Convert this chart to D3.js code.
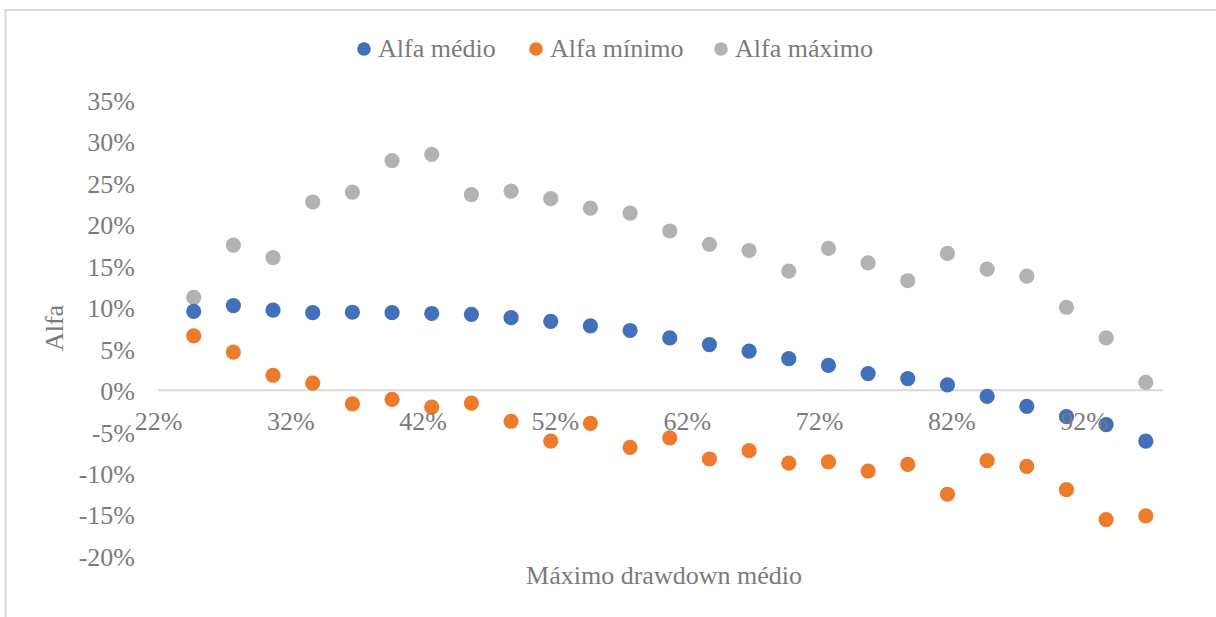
<!DOCTYPE html>
<html>
<head>
<meta charset="utf-8">
<script src="https://cdn.jsdelivr.net/npm/d3@7"></script>
<style>
  html, body { margin: 0; padding: 0; background: #ffffff; }
  svg { display: block; }
  text { font-family: "Liberation Serif", "Times New Roman", serif; fill: #7b7b7b; }
</style>
</head>
<body>
<svg id="chart" width="1216" height="617"></svg>
<script>
// Máximo drawdown médio (x) for each group
const drawdown = [24.7, 27.7, 30.7, 33.7, 36.7, 39.7, 42.7, 45.7, 48.7, 51.7, 54.7, 57.7, 60.7,
                  63.7, 66.7, 69.7, 72.7, 75.7, 78.7, 81.7, 84.7, 87.7, 90.7, 93.7, 96.7];

// Alfa per group (%)
const alfaMedio = [9.5, 10.2, 9.65, 9.35, 9.4, 9.35, 9.25, 9.15, 8.75, 8.3, 7.75, 7.2, 6.3,
                   5.5, 4.7, 3.8, 3.0, 2.0, 1.4, 0.65, -0.75, -1.95, -3.2, -4.15, -6.15];
const alfaMinimo = [6.55, 4.6, 1.8, 0.85, -1.65, -1.1, -2.05, -1.55, -3.75, -6.15, -4.0, -6.9, -5.75,
                    -8.3, -7.3, -8.8, -8.65, -9.75, -8.95, -12.55, -8.5, -9.2, -12.0, -15.6, -15.15];
const alfaMaximo = [11.2, 17.5, 16.0, 22.7, 23.9, 27.7, 28.45, 23.6, 24.0, 23.1, 21.95, 21.35, 19.2,
                    17.6, 16.85, 14.35, 17.1, 15.35, 13.2, 16.5, 14.6, 13.75, 10.0, 6.3, 0.95];

const xTicks = [22, 32, 42, 52, 62, 72, 82, 92];
const yTicks = [-20, -15, -10, -5, 0, 5, 10, 15, 20, 25, 30, 35];

const seriesNames = ["Alfa médio", "Alfa mínimo", "Alfa máximo"];
const seriesColors = ["#4270ba", "#ec7b2b", "#b1b2b3"];
const seriesValues = [alfaMedio, alfaMinimo, alfaMaximo];

const svg = d3.select("#chart");

// chart area border
svg.append("rect")
  .attr("x", 5.5).attr("y", 10)
  .attr("width", 1400).attr("height", 800)
  .attr("fill", "none")
  .attr("stroke", "#d9d9d9")
  .attr("stroke-width", 2);

const plot = { left: 158, right: 1163, top: 100, bottom: 556 };

const x = d3.scaleLinear().domain([22, 98]).range([plot.left, plot.right]);
const y = d3.scaleLinear().domain([-20, 35]).range([plot.bottom, plot.top]);

// horizontal axis line at zero
svg.append("line")
  .attr("x1", plot.left).attr("x2", plot.right)
  .attr("y1", y(0)).attr("y2", y(0))
  .attr("stroke", "#d9d9d9")
  .attr("stroke-width", 2);

// points (grey drawn first, then orange, then blue on top)
const drawOrder = [2, 1, 0];
drawOrder.forEach(s => {
  svg.append("g")
    .selectAll("circle")
    .data(seriesValues[s].map((v, i) => ({ x: drawdown[i], y: v })))
    .join("circle")
    .attr("cx", d => x(d.x))
    .attr("cy", d => y(d.y))
    .attr("r", 7.6)
    .attr("fill", seriesColors[s]);
});

// y axis labels
const yAxis = d3.axisLeft(y)
  .tickValues(yTicks)
  .tickSize(0)
  .tickPadding(0)
  .tickFormat(d => d + "%");
const gy = svg.append("g")
  .attr("transform", `translate(${135},0)`)
  .call(yAxis);
gy.select(".domain").remove();
gy.selectAll("text")
  .attr("font-size", 26)
  .attr("font-family", "Liberation Serif, serif")
  .attr("fill", "#7b7b7b")
  .attr("dy", "0.36em");

// x axis labels, just under the zero line
const xAxis = d3.axisBottom(x)
  .tickValues(xTicks)
  .tickSize(0)
  .tickPadding(0)
  .tickFormat(d => d + "%");
const gx = svg.append("g")
  .attr("transform", `translate(0,${y(0)})`)
  .call(xAxis);
gx.select(".domain").remove();
gx.selectAll("text")
  .attr("font-size", 26)
  .attr("font-family", "Liberation Serif, serif")
  .attr("fill", "#7b7b7b")
  .attr("dy", null)
  .attr("y", 40);

// axis titles
svg.append("text")
  .attr("transform", `translate(${63},${(plot.top + plot.bottom) / 2}) rotate(-90)`)
  .attr("text-anchor", "middle")
  .attr("font-size", 26)
  .text("Alfa");

svg.append("text")
  .attr("x", 664).attr("y", 583.5)
  .attr("text-anchor", "middle")
  .attr("font-size", 26)
  .text("Máximo drawdown médio");

// legend
const legendX = [364, 536, 721];
const legend = svg.append("g");
seriesNames.forEach((name, i) => {
  legend.append("circle")
    .attr("cx", legendX[i]).attr("cy", 49)
    .attr("r", 6.8)
    .attr("fill", seriesColors[i]);
  legend.append("text")
    .attr("x", legendX[i] + 14).attr("y", 57)
    .attr("font-size", 26)
    .text(name);
});
</script>
</body>
</html>
